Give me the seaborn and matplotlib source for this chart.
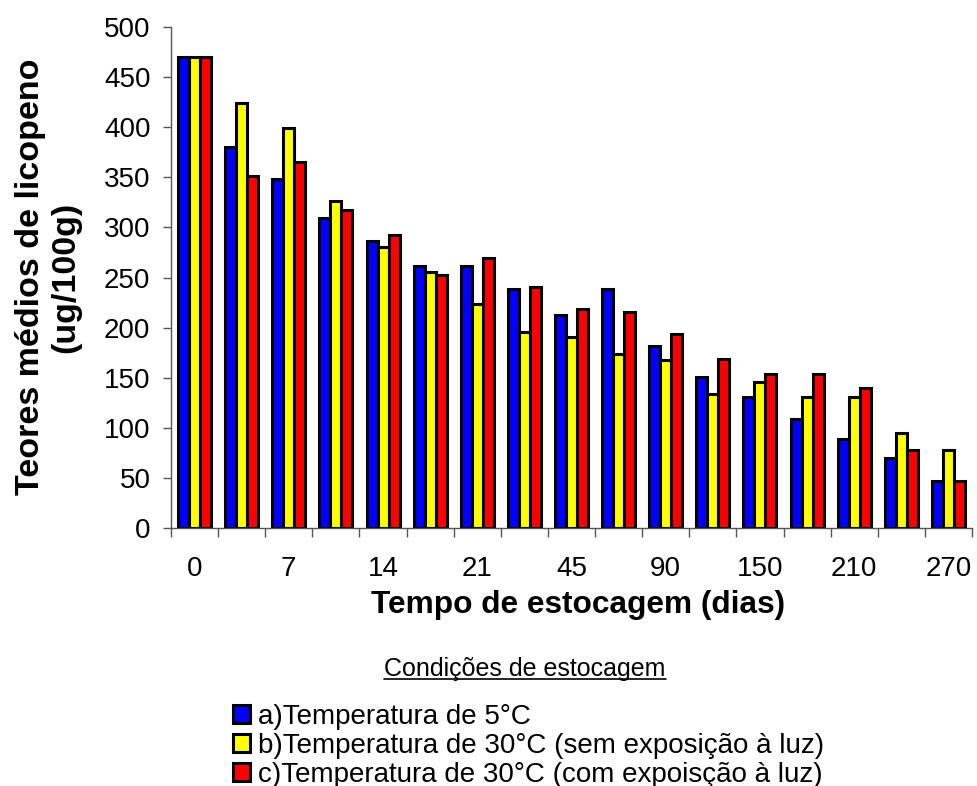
import matplotlib
matplotlib.use("Agg")
import matplotlib.pyplot as plt
import seaborn as sns
import pandas as pd
from matplotlib.lines import Line2D

# ---- data ----
groups = list(range(1, 18))
tick_labels = ["0", "", "7", "", "14", "", "21", "", "45", "", "90", "", "150", "", "210", "", "270"]
series_names = ["a)Temperatura de 5°C",
                "b)Temperatura de 30°C (sem exposição à luz)",
                "c)Temperatura de 30°C (com expoisção à luz)"]
vals_a = [470, 380, 348, 309, 286, 261, 261, 239, 213, 239, 182, 151, 131, 109, 89, 70, 47]
vals_b = [470, 424, 399, 326, 280, 255, 224, 196, 191, 174, 168, 134, 146, 131, 131, 95, 78]
vals_c = [470, 351, 365, 317, 292, 252, 269, 241, 219, 216, 194, 169, 154, 154, 140, 78, 47]
colors = ["#0000FF", "#FFFF00", "#FF0000"]

rows = []
for name, vals in zip(series_names, [vals_a, vals_b, vals_c]):
    for g, v in zip(groups, vals):
        rows.append({"grupo": g, "valor": v, "condicao": name})
df = pd.DataFrame(rows)

sns.set_theme(style="white")
plt.rcParams['font.family'] = ['Liberation Sans', 'DejaVu Sans']
plt.rcParams['text.color'] = 'black'
plt.rcParams['xtick.color'] = 'black'
plt.rcParams['ytick.color'] = 'black'

W, H = 977, 786
fig = plt.figure(figsize=(W / 100, H / 100), dpi=100)
ax = fig.add_axes([171 / W, 1 - 528 / H, 801 / W, 501 / H])

sns.barplot(data=df, x="grupo", y="valor", hue="condicao", hue_order=series_names,
            order=groups, palette=colors, width=0.7, saturation=1, errorbar=None,
            edgecolor="black", linewidth=2.2, ax=ax)

ax.set_ylim(0, 500)
ax.set_xlim(-0.5, len(groups) - 0.5)
ax.set_yticks(range(0, 501, 50))
ax.set_xticks(range(len(groups)))
ax.set_xticklabels(tick_labels)
ax.set_xticks([i - 0.5 for i in range(len(groups) + 1)], minor=True)
ax.tick_params(axis="x", which="major", length=0, pad=20, labelsize=20, labelcolor="black")
ax.tick_params(axis="x", which="minor", length=6.5, width=1, color="#555555", direction="out", bottom=True)
ax.tick_params(axis="y", length=5.8, width=1, color="#555555", direction="out", pad=9,
               labelsize=20, left=True, labelcolor="black")
for s in ["top", "right"]:
    ax.spines[s].set_visible(False)
for s in ["left", "bottom"]:
    ax.spines[s].set_color("#555555")
    ax.spines[s].set_linewidth(1)
ax.set_xlabel("")
ax.set_ylabel("")

fig.text(48 / W, 1 - 277 / H, "Teores médios de licopeno\n(ug/100g)", rotation=90,
         ha="center", va="center", multialignment="center", fontsize=24.5,
         fontweight="bold", linespacing=1.2, color="black")
fig.text(578 / W, 1 - 605 / H, "Tempo de estocagem (dias)", ha="center", va="center",
         fontsize=22.8, fontweight="bold", color="black")

# legend
handles, labels = ax.get_legend_handles_labels()
if ax.legend_:
    ax.legend_.remove()
leg = fig.legend(handles, labels, loc="upper left", bbox_to_anchor=(233 / W, 1 - 704 / H),
                 frameon=False, fontsize=20, handlelength=0.6, handleheight=0.6,
                 handletextpad=0.3, labelspacing=0.1, borderpad=0, borderaxespad=0)
for txt in leg.get_texts():
    txt.set_color("black")

t = fig.text(525 / W, 1 - 669 / H, "Condições de estocagem", ha="center", va="center",
             fontsize=18, color="black")
fig.canvas.draw()
bb = t.get_window_extent(renderer=fig.canvas.get_renderer())
uy = (bb.y0 + 2) / H
fig.add_artist(Line2D([bb.x0 / W, bb.x1 / W], [uy, uy], color="black", lw=1.2,
                      transform=fig.transFigure))

fig.savefig("out.png", dpi=100)
